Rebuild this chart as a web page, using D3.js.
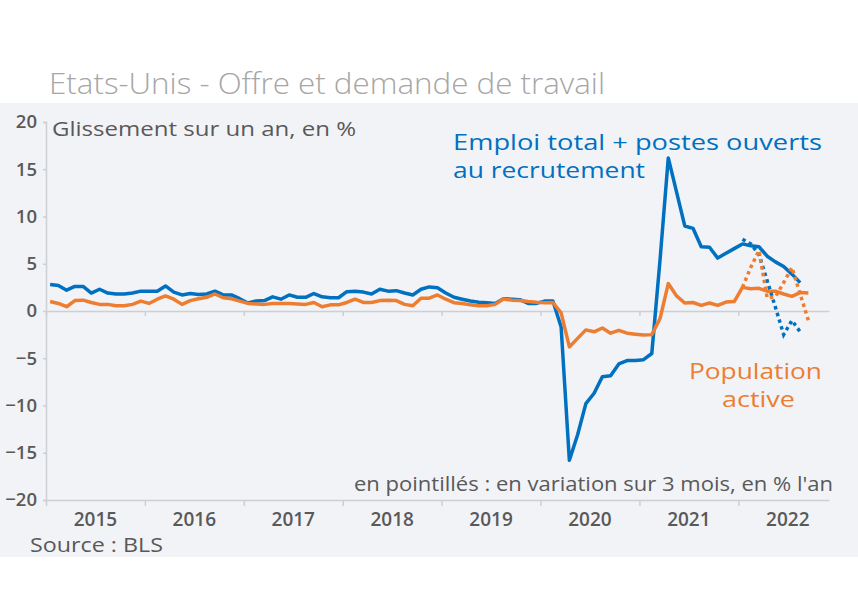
<!DOCTYPE html>
<html>
<head>
<meta charset="utf-8">
<script src="https://cdn.jsdelivr.net/npm/d3@7"></script>
<style>
    body { margin: 0; background: #ffffff; }
    text { font-family: "Open Sans", sans-serif; }
</style>
</head>
<body>
<figure id="chart" style="margin:0"></figure>
<script>
// months from Jan 2015, one value per month (yoy %)
var years = ["2015", "2016", "2017", "2018", "2019", "2020", "2021", "2022"];
var yTicks = [-20, -15, -10, -5, 0, 5, 10, 15, 20];
var nMonths = 95; // Jan 2015 -> Nov 2022 on the axis

// Emploi total + postes ouverts au recrutement, Jan 2015 - Aug 2022
var emploiPostes = [
    2.8, 2.7, 2.2, 2.6, 2.6, 1.9, 2.3, 1.9, 1.8, 1.8, 1.9, 2.1,
    2.1, 2.1, 2.65, 2.0, 1.7, 1.85, 1.75, 1.8, 2.1, 1.7, 1.7, 1.3,
    0.85, 1.05, 1.1, 1.5, 1.25, 1.7, 1.45, 1.45, 1.85, 1.5, 1.4, 1.4,
    2.05, 2.1, 2.0, 1.8, 2.3, 2.1, 2.15, 1.9, 1.7, 2.3, 2.55, 2.45,
    1.9, 1.45, 1.25, 1.05, 0.92, 0.88, 0.8, 1.3, 1.25, 1.2, 0.8, 0.8,
    1.05, 1.05, -1.7, -15.8, -13.1, -9.8, -8.7, -6.95, -6.85, -5.6, -5.25, -5.25,
    -5.15, -4.5, 5.4, 16.2, 12.6, 9.0, 8.75, 6.8, 6.75, 5.6, 6.1, 6.6,
    7.1, 6.9, 6.8, 5.8, 5.2, 4.7, 3.9, 3.0
];

// Population active, Jan 2015 - Sep 2022
var populationActive = [
    1.0, 0.8, 0.45, 1.1, 1.15, 0.9, 0.7, 0.7, 0.55, 0.55, 0.7, 1.05,
    0.8, 1.25, 1.6, 1.25, 0.7, 1.1, 1.3, 1.45, 1.8, 1.4, 1.3, 1.05,
    0.8, 0.75, 0.7, 0.8, 0.8, 0.8, 0.75, 0.7, 0.9, 0.45, 0.65, 0.65,
    0.9, 1.25, 0.9, 0.9, 1.1, 1.15, 1.1, 0.7, 0.55, 1.35, 1.35, 1.7,
    1.25, 0.88, 0.8, 0.65, 0.55, 0.55, 0.7, 1.27, 1.15, 1.1, 1.0, 0.92,
    0.88, 0.9, -0.2, -3.8, -2.9, -2.0, -2.2, -1.8, -2.35, -2.05, -2.35, -2.45,
    -2.55, -2.5, -0.8, 2.9, 1.6, 0.85, 0.9, 0.6, 0.85, 0.6, 0.95, 1.0,
    2.5, 2.35, 2.4, 2.1, 2.1, 1.8, 1.55, 1.95, 1.9
];

// variation sur 3 mois, en % l'an (from Jan 2022)
var start3m = 84;
var emploiPostes3m = [7.6, 7.1, 6.0, 3.2, 0.4, -2.5, -1.0, -2.2];
var populationActive3m = [2.5, 4.6, 6.4, 1.4, 1.5, 3.0, 4.6, 1.8, -1.0];

var blue = "#0070c0";
var orange = "#ed7d31";
var grey = "#595959";

let dimensions = {
    width: 858,
    height: 600,
    margin: { top: 122, right: 29, bottom: 100, left: 46 },
};
dimensions.boundedWidth = dimensions.width - dimensions.margin.left - dimensions.margin.right;
dimensions.boundedHeight = dimensions.height - dimensions.margin.top - dimensions.margin.bottom;

var root = d3.select("figure#chart")
    .append("svg")
    .attr("width", dimensions.width)
    .attr("height", dimensions.height);

// light panel behind the plot
root.append("rect")
    .attr("x", 0).attr("y", 103)
    .attr("width", dimensions.width).attr("height", 454)
    .attr("fill", "#f2f3f7");

// stretch text to the width seen in the picture
function fit(sel, w) {
    return sel.attr("textLength", w).attr("lengthAdjust", "spacingAndGlyphs");
}

fit(root.append("text")
    .attr("x", 49).attr("y", 94)
    .attr("font-family", "Lato, 'Open Sans', sans-serif")
    .attr("font-weight", 300)
    .attr("font-size", 29)
    .attr("fill", "#a6a6a6")
    .text("Etats-Unis - Offre et demande de travail"), 556);

var svg = root.append("g")
    .attr("transform", `translate(${dimensions.margin.left}, ${dimensions.margin.top})`);

var xScale = d3.scaleLinear()
    .domain([0, nMonths])
    .range([0, dimensions.boundedWidth]);

var yScale = d3.scaleLinear()
    .domain([-20, 20])
    .range([dimensions.boundedHeight, 0]);

var yearStarts = years.map((d, i) => i * 12);

// axes
var yAxis = svg.append("g")
    .call(d3.axisLeft(yScale).tickValues(yTicks).tickSize(3).tickPadding(6));

var xAxis = svg.append("g")
    .attr("transform", `translate(0, ${dimensions.boundedHeight})`)
    .call(d3.axisBottom(xScale).tickValues(yearStarts).tickFormat("").tickSize(6).tickSizeOuter(0));

var zeroAxis = svg.append("g")
    .attr("transform", `translate(0, ${yScale(0)})`)
    .call(d3.axisBottom(xScale).tickValues(yearStarts).tickFormat("").tickSize(5).tickSizeOuter(0));

svg.selectAll(".domain, .tick line")
    .attr("stroke", "#cdcfd4")
    .attr("stroke-width", 1.5);

yAxis.selectAll("text")
    .attr("font-family", "'Open Sans', sans-serif")
    .attr("font-weight", 600)
    .attr("font-size", 18.5)
    .attr("fill", grey);

svg.selectAll(".year")
    .data(years)
    .enter()
    .append("text")
    .attr("class", "year")
    .attr("x", (d, i) => xScale(i * 12 + 6))
    .attr("y", dimensions.boundedHeight + 26)
    .attr("text-anchor", "middle")
    .attr("font-weight", 600)
    .attr("font-size", 19)
    .attr("fill", grey)
    .text(d => d);

// lines
var line = d3.line()
    .x((d, i) => xScale(i + 0.5))
    .y(d => yScale(d));

var line3m = d3.line()
    .x((d, i) => xScale(start3m + i + 0.5))
    .y(d => yScale(d));

svg.append("path")
    .datum(emploiPostes)
    .attr("d", line)
    .attr("fill", "none")
    .attr("stroke", blue)
    .attr("stroke-width", 3.5)
    .attr("stroke-linejoin", "round");

svg.append("path")
    .datum(populationActive)
    .attr("d", line)
    .attr("fill", "none")
    .attr("stroke", orange)
    .attr("stroke-width", 3.5)
    .attr("stroke-linejoin", "round");

svg.append("path")
    .datum(emploiPostes3m)
    .attr("d", line3m)
    .attr("fill", "none")
    .attr("stroke", blue)
    .attr("stroke-width", 3.5)
    .attr("stroke-dasharray", "3.5,3.5");

svg.append("path")
    .datum(populationActive3m)
    .attr("d", line3m)
    .attr("fill", "none")
    .attr("stroke", orange)
    .attr("stroke-width", 3.5)
    .attr("stroke-dasharray", "3.5,3.5");

// annotations
fit(root.append("text")
    .attr("x", 52).attr("y", 136)
    .attr("font-size", 20).attr("fill", grey)
    .text("Glissement sur un an, en %"), 304);

// series labels: Lato keeps the line boxes from overlapping
function seriesLabel(txt, x, y, w, colour) {
    return fit(root.append("text")
        .attr("x", x).attr("y", y)
        .attr("font-family", "Lato, 'Open Sans', sans-serif")
        .attr("font-size", 22.5)
        .attr("fill", colour)
        .text(txt), w);
}
seriesLabel("Emploi total + postes ouverts", 453, 150, 369, blue);
seriesLabel("au recrutement", 453, 178, 192, blue);
seriesLabel("Population", 689, 379, 133, orange);
seriesLabel("active", 722, 407, 73, orange);

fit(root.append("text")
    .attr("x", 354).attr("y", 491)
    .attr("font-size", 20).attr("fill", grey)
    .text("en pointillés : en variation sur 3 mois, en % l'an"), 479);

fit(root.append("text")
    .attr("x", 30).attr("y", 552)
    .attr("font-size", 20).attr("fill", grey)
    .text("Source : BLS"), 133);
</script>
</body>
</html>
